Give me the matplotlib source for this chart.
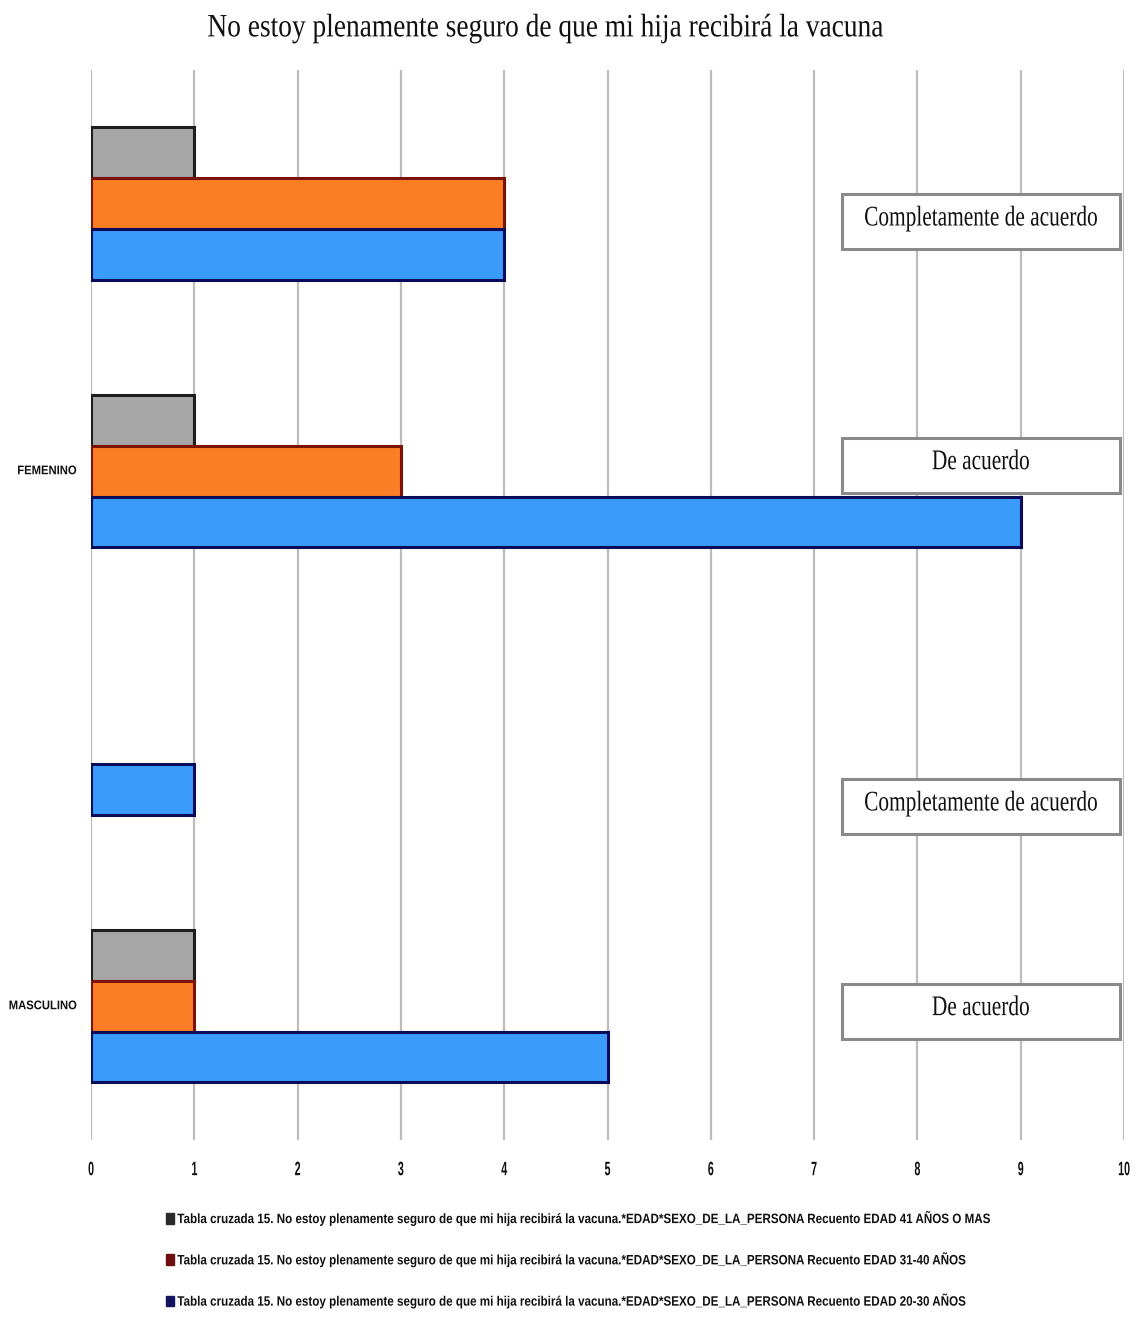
import matplotlib
matplotlib.use("Agg")
import matplotlib.pyplot as plt
from matplotlib.patches import Rectangle
from matplotlib.patheffects import AbstractPathEffect
from matplotlib.transforms import Affine2D, Bbox
import numpy as np

# Survey cross-table: counts by sex, response and age group
title = "No estoy plenamente seguro de que mi hija recibirá la vacuna"
sexes = ["MASCULINO", "MASCULINO", "FEMENINO", "FEMENINO"]
responses = ["De acuerdo", "Completamente de acuerdo", "De acuerdo", "Completamente de acuerdo"]
age_41_mas = [1, 0, 1, 1]
age_31_40 = [1, 0, 3, 4]
age_20_30 = [5, 1, 9, 4]
x_ticks = [0, 1, 2, 3, 4, 5, 6, 7, 8, 9, 10]
prefix = ("Tabla cruzada 15. No estoy plenamente seguro de que mi hija recibirá la vacuna."
          "*EDAD*SEXO_DE_LA_PERSONA Recuento EDAD ")
series_names = [prefix + "41 AÑOS O MAS", prefix + "31-40 AÑOS", prefix + "20-30 AÑOS"]

face_colors = ["#a6a6a6", "#fb7d25", "#3a9bfb"]
edge_colors = ["#1e1e1e", "#7a1208", "#0a0a5a"]
legend_colors = ["#2a2a2a", "#6e1010", "#14145e"]

sans = ["Liberation Sans", "DejaVu Sans"]
serif = ["Liberation Serif", "DejaVu Serif"]


class Condense(AbstractPathEffect):
    """Draw a text path narrowed horizontally around a chosen anchor."""

    def __init__(self, factor, anchor="center"):
        super().__init__()
        self.factor = factor
        self.anchor = anchor

    def draw_path(self, renderer, gc, tpath, affine, rgbFace=None):
        ext = tpath.get_extents()
        x0 = {"left": ext.x0, "center": 0.5 * (ext.x0 + ext.x1), "right": ext.x1}[self.anchor]
        squeeze = Affine2D().translate(-x0, 0).scale(self.factor, 1.0).translate(x0, 0)
        renderer.draw_path(gc, tpath, squeeze + affine, rgbFace)


def condense(text, factor, anchor):
    """Narrow a text artist and report its narrowed extent."""
    text.set_path_effects([Condense(factor, anchor)])
    full_extent = text.get_window_extent

    def narrow_extent(renderer=None, dpi=None):
        bb = full_extent(renderer, dpi)
        a = {"left": bb.x0, "center": 0.5 * (bb.x0 + bb.x1), "right": bb.x1}[anchor]
        return Bbox([[a + (bb.x0 - a) * factor, bb.y0],
                     [a + (bb.x1 - a) * factor, bb.y1]])

    text.get_window_extent = narrow_extent
    return text


fig = plt.figure(figsize=(11.38, 13.28), dpi=100)
ax = fig.add_axes([0.080, 0.1416, 0.9077, 0.8057])

y = np.arange(len(responses))
bar_h = 0.19
offsets = [bar_h, 0.0, -bar_h]
all_series = [age_41_mas, age_31_40, age_20_30]
for vals, off, fc, ec in zip(all_series, offsets, face_colors, edge_colors):
    lw = [2.2 if v > 0 else 0.0 for v in vals]
    ax.barh(y + off, vals, height=bar_h, color=fc, edgecolor=ec,
            linewidth=lw, zorder=3)

ax.set_xlim(0, 10)
ax.set_ylim(-0.5, len(responses) - 0.5)
ax.set_xticks(x_ticks)
ax.set_xticklabels([str(t) for t in x_ticks], family=sans,
                   fontweight="bold", fontsize=14, color="#111111")
for tk in ax.xaxis.get_major_ticks():
    condense(tk.label1, 0.55, "center")
ax.tick_params(axis="x", length=0, pad=16)
ax.set_yticks([])
ax.xaxis.grid(True, color="#bdbdbd", linewidth=1.6, zorder=0)
for s in ax.spines.values():
    s.set_visible(False)

# Outer level labels (sex), placed at the "De acuerdo" rows
for i, (sx, resp) in enumerate(zip(sexes, responses)):
    if resp == "De acuerdo":
        t = ax.text(-0.135, i, sx, ha="right", va="center", family=sans,
                    fontweight="bold", fontsize=9, color="#111111")
        condense(t, 0.9, "right")

# Inner level labels (response) in framed boxes on the right
box_shift = [-0.019, -0.254, 0.022, -0.067]
box_left, box_right, box_h = 7.27, 9.96, 0.205
for i, (resp, sh) in enumerate(zip(responses, box_shift)):
    yc = i + sh
    ax.add_patch(Rectangle((box_left, yc - box_h / 2), box_right - box_left, box_h,
                           facecolor="white", edgecolor="#8a8a8a", linewidth=2.2,
                           zorder=4))
    t = ax.text((box_left + box_right) / 2, yc + 0.01, resp, ha="center", va="center",
                family=serif, fontsize=20.5, color="#111111", zorder=5)
    condense(t, 0.75, "center")

t = fig.text(0.479, 0.979, title, ha="center", va="center", family=serif,
             fontsize=23.5, color="#111111")
condense(t, 0.84, "center")

handles = [Rectangle((0, 0), 1, 1, facecolor=c, edgecolor=c) for c in legend_colors]
leg = fig.legend(handles, series_names, loc="upper left",
                 bbox_to_anchor=(166 / 1138, 118 / 1328),
                 frameon=False, ncol=1, labelspacing=1.85, handlelength=0.58,
                 handleheight=0.8, handletextpad=0.25, borderpad=0.0,
                 borderaxespad=0.0,
                 prop={"family": sans, "weight": "bold", "size": 9.8})
for t in leg.get_texts():
    t.set_color("#111111")
    condense(t, 0.855, "left")

fig.savefig("out.png", dpi=100, facecolor="white")
